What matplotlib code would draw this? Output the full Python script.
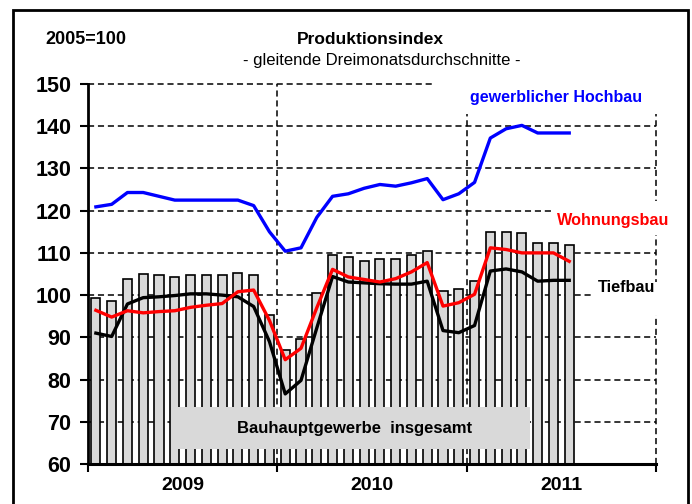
import numpy as np
import matplotlib
matplotlib.use('Agg')
import matplotlib.pyplot as plt
from matplotlib import font_manager
from matplotlib.patches import Rectangle

# Bauhauptgewerbe insgesamt, Jan 2009 - Jul 2011 (bars)
gesamt = [99.2, 98.7, 103.8, 105.1, 104.7, 104.3, 104.7, 104.7, 104.7, 105.2, 104.7, 95.2,
          86.9, 89.6, 100.4, 109.6, 109.1, 108.0, 108.6, 108.6, 109.6, 110.4, 100.9, 101.4,
          103.3, 115.0, 115.0, 114.6, 112.3, 112.3, 111.9]
hochbau = [120.9, 121.5, 124.3, 124.3, 123.4, 122.5, 122.5, 122.5, 122.5, 122.5, 121.2, 115.0,
           110.4, 111.2, 118.4, 123.4, 124.0, 125.3, 126.2, 125.8, 126.6, 127.6, 122.6, 124.0,
           126.7, 137.2, 139.4, 140.2, 138.4, 138.4, 138.4]
wohnungsbau = [96.4, 94.8, 96.3, 95.8, 96.1, 96.3, 97.1, 97.6, 98.0, 100.8, 101.2, 94.0,
               84.7, 87.4, 97.0, 106.1, 104.3, 103.7, 103.1, 103.9, 105.5, 107.7, 97.4, 98.2,
               100.2, 111.2, 110.8, 110.0, 110.0, 110.0, 108.0]
tiefbau = [91.0, 90.2, 97.9, 99.4, 99.6, 99.9, 100.3, 100.3, 100.0, 99.6, 97.3, 89.0,
           76.6, 79.8, 92.2, 104.4, 103.1, 102.9, 102.7, 102.6, 102.6, 103.3, 91.6, 91.1,
           92.8, 105.7, 106.2, 105.5, 103.3, 103.5, 103.5]
years = ['2009', '2010', '2011']
yticks = [60, 70, 80, 90, 100, 110, 120, 130, 140, 150]

names = {f.name for f in font_manager.fontManager.ttflist}
normal = 'Liberation Sans' if 'Liberation Sans' in names else 'DejaVu Sans'
plt.rcParams['font.family'] = [normal, 'DejaVu Sans']

fig = plt.figure(figsize=(6.92, 5.04), dpi=100)
ax = fig.add_axes([88 / 692, 40 / 504, 568 / 692, 380 / 504])

x = np.arange(len(gesamt))
nmonths = 12 * len(years)
ax.set_xlim(-0.5, nmonths - 0.5)
ax.set_ylim(60, 150)

# grid
dash = dict(color='black', lw=1.1, ls=(0, (4, 2.5)), zorder=0, clip_on=False)
for v in yticks[1:]:
    ax.axhline(v, **dash)
for k in range(1, len(years) + 1):
    ax.axvline(12 * k - 0.5, **dash)

ax.bar(x, gesamt, width=0.58, color='#d9d9d9', edgecolor='black', lw=1.2, zorder=2)

# white areas behind series labels
for (x0, x1, y0, y1) in [(21.3, 37.5, 142.8, 152), (28.97, 37.5, 114.3, 122.2),
                         (31.4, 37.5, 95.3, 103.1)]:
    ax.add_patch(Rectangle((x0, y0), x1 - x0, y1 - y0, facecolor='white',
                           edgecolor='none', zorder=1, clip_on=False))

ax.plot(x, hochbau, color='#0000ff', lw=2.4, zorder=4)
ax.plot(x, wohnungsbau, color='#ff0000', lw=2.4, zorder=4)
ax.plot(x, tiefbau, color='black', lw=2.4, zorder=3)

ax.add_patch(Rectangle((4.82, 63.5), 27.5 - 4.82, 73.5 - 63.5, facecolor='#d9d9d9',
                       edgecolor='none', zorder=5))
ax.text(16.4, 68.5, 'Bauhauptgewerbe  insgesamt', weight='bold',
        fontsize=12, ha='center', va='center', zorder=6)

ax.text(23.7, 146.9, 'gewerblicher Hochbau', weight='bold', fontsize=11.5,
        color='#0000ff', ha='left', va='center', zorder=6, clip_on=False)
ax.text(29.2, 117.6, 'Wohnungsbau', weight='bold', fontsize=11.7,
        color='#ff0000', ha='left', va='center', zorder=6, clip_on=False)
ax.text(31.8, 101.8, 'Tiefbau', weight='bold', fontsize=11.7,
        color='black', ha='left', va='center', zorder=6, clip_on=False)

for s in ['top', 'right']:
    ax.spines[s].set_visible(False)
ax.spines['left'].set_linewidth(2)
ax.spines['bottom'].set_linewidth(2.2)

ax.set_yticks(yticks)
ax.set_yticklabels([str(v) for v in yticks], fontsize=15.5, fontweight='bold')
ax.tick_params(axis='y', direction='out', length=6, width=1.5, pad=6)

ax.set_xticks([12 * k - 0.5 for k in range(len(years) + 1)])
ax.set_xticklabels([])
ax.tick_params(axis='x', which='major', direction='out', length=6, width=1.5)
ax.set_xticks([12 * k + 5.5 for k in range(len(years))], minor=True)
ax.set_xticklabels(years, minor=True, fontsize=14, fontweight='bold')
ax.tick_params(axis='x', which='minor', length=0, pad=9)

fig.text(45 / 692, 1 - 40 / 504, '2005=100', fontsize=13, fontweight='bold', va='center')
fig.text(370 / 692, 1 - 40 / 504, 'Produktionsindex', fontsize=12.5,
         fontweight='bold', ha='center', va='center')
fig.text(382 / 692, 1 - 61 / 504, '- gleitende Dreimonatsdurchschnitte -', fontsize=12,
         ha='center', va='center')

# outer frame
fig.patches.append(Rectangle((13 / 692, -0.1), 675 / 692, 1.1 - 10 / 504, transform=fig.transFigure,
                             fill=False, edgecolor='black', lw=2))

fig.savefig('out.png', dpi=100)
